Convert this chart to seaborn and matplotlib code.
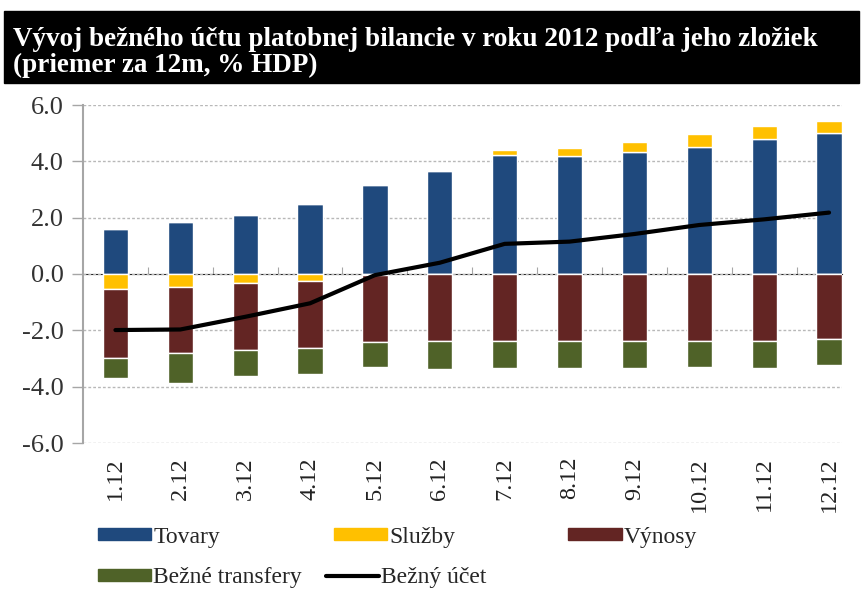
import matplotlib.pyplot as plt
import matplotlib.patches as mpatches
import matplotlib.lines as mlines
import numpy as np
import pandas as pd
import seaborn as sns

months = ["1.12", "2.12", "3.12", "4.12", "5.12", "6.12",
          "7.12", "8.12", "9.12", "10.12", "11.12", "12.12"]
tovary = [1.59, 1.86, 2.09, 2.50, 3.16, 3.64, 4.23, 4.19, 4.32, 4.50, 4.79, 5.00]
sluzby = [-0.55, -0.47, -0.33, -0.26, -0.02, 0.06, 0.18, 0.28, 0.37, 0.46, 0.45, 0.43]
vynosy = [-2.42, -2.35, -2.36, -2.38, -2.40, -2.37, -2.37, -2.37, -2.37, -2.37, -2.37, -2.32]
transfery = [-0.71, -1.04, -0.94, -0.90, -0.89, -0.99, -0.98, -0.98, -0.98, -0.93, -0.98, -0.91]
bezny_ucet = [-1.99, -1.97, -1.52, -1.04, -0.04, 0.40, 1.07, 1.15, 1.42, 1.74, 1.94, 2.18]

df = pd.DataFrame({"month": months, "tovary": tovary, "sluzby": sluzby,
                   "vynosy": vynosy, "transfery": transfery, "ucet": bezny_ucet})
df["x"] = np.arange(len(df))

c_tov, c_slu, c_vyn, c_tra = "#1f497d", "#ffc000", "#632523", "#4f6228"

sns.set_style("white")
plt.rcParams["font.family"] = ["Liberation Serif", "DejaVu Serif"]

fig = plt.figure(figsize=(8.63, 5.96), dpi=100)
ax = fig.add_axes([83 / 863, 1 - 443 / 596, (842 - 83) / 863, (443 - 105) / 596])

# stacked bars: positive parts up from zero, negative parts down from zero
pos_sl = df.sluzby.clip(lower=0)
neg_sl = df.sluzby.clip(upper=0)
w = 0.39
ax.bar(df.x, df.tovary, width=w, color=c_tov, zorder=3)
ax.bar(df.x, pos_sl, bottom=df.tovary, width=w, color=c_slu, zorder=3)
ax.bar(df.x, neg_sl, width=w, color=c_slu, zorder=3)
ax.bar(df.x, df.vynosy, bottom=neg_sl, width=w, color=c_vyn, zorder=3)
ax.bar(df.x, df.transfery, bottom=neg_sl + df.vynosy, width=w, color=c_tra, zorder=3)

sns.lineplot(data=df, x="x", y="ucet", color="black", linewidth=3, ax=ax, zorder=4)

ax.set_ylim(-6, 6)
ax.set_xlim(-0.5, 11.2)
ax.set_yticks(np.arange(-6, 7, 2))
ax.set_yticklabels([f"{v:.1f}" for v in np.arange(-6, 7, 2)])
ax.yaxis.grid(True, linestyle=(0, (2, 1.5)), color="#b8b8b8", linewidth=1, zorder=0)
ax.set_xticks(df.x)
ax.set_xticklabels(months, rotation=90)
ax.set_xlabel("")
ax.set_ylabel("")
for s in ["top", "right", "bottom"]:
    ax.spines[s].set_visible(False)
ax.spines["left"].set_color("#a6a6a6")
ax.spines["left"].set_linewidth(1.5)
ax.tick_params(axis="y", length=8, width=1, color="#a6a6a6", labelsize=19,
               labelcolor="#333333", pad=6, left=True)
ax.tick_params(axis="x", length=0, labelsize=17.5, labelcolor="#222222", pad=10)

# category axis crossing at zero
sec = ax.secondary_xaxis(0.5)
sec.set_xticks(df.x[:-1] + 0.5)
sec.set_xticklabels([])
sec.spines["bottom"].set_color("#a6a6a6")
sec.spines["bottom"].set_linewidth(1.2)
sec.tick_params(axis="x", direction="out", length=5, color="#a6a6a6")

# title bar
fig.patches.append(mpatches.Rectangle((4 / 863, 1 - 83 / 596), (859 - 4) / 863, 72 / 596,
                                      transform=fig.transFigure, color="black", zorder=0))
fig.text(13 / 863, 1 - 46 / 596, "Vývoj bežného účtu platobnej bilancie v roku 2012 podľa jeho zložiek",
         color="white", fontsize=19.5, fontweight="bold", va="baseline")
fig.text(13 / 863, 1 - 72 / 596, "(priemer za 12m, % HDP)",
         color="white", fontsize=19.5, fontweight="bold", va="baseline")

# legend
h1 = [mpatches.Patch(color=c, label=l) for c, l in
      [(c_tov, "Tovary"), (c_slu, "Služby"), (c_vyn, "Výnosy")]]
h2 = [mpatches.Patch(color=c_tra, label="Bežné transfery"),
      mlines.Line2D([], [], color="black", linewidth=3, label="Bežný účet")]
leg_kw = dict(frameon=False, fontsize=17, handlelength=2.25, handleheight=0.42,
              handletextpad=0.1, borderpad=0, borderaxespad=0, loc="center left")
fig.legend(handles=h1, ncol=3, columnspacing=4.8,
           bbox_to_anchor=(98 / 863, 1 - 537 / 596), **leg_kw)
fig.legend(handles=h2, ncol=2, columnspacing=1.0,
           bbox_to_anchor=(98 / 863, 1 - 578 / 596), **leg_kw)

fig.savefig("out.png", dpi=100)
